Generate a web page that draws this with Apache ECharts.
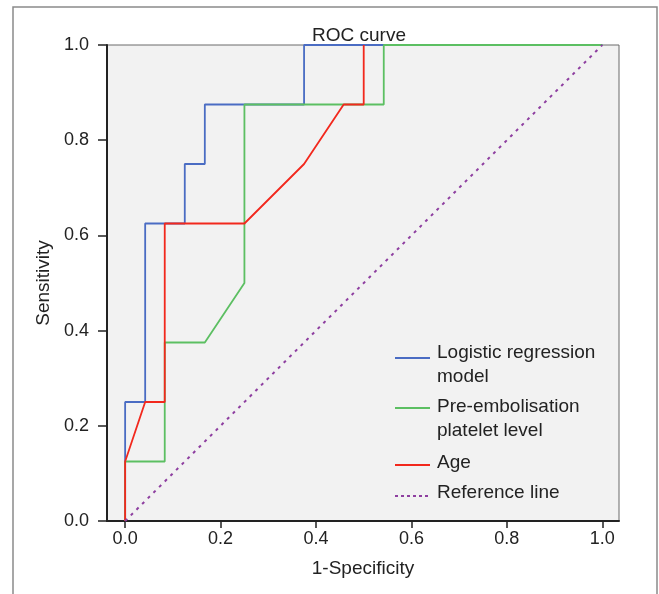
<!DOCTYPE html>
<html>
<head>
<meta charset="utf-8">
<script src="https://cdn.jsdelivr.net/npm/echarts@6/dist/echarts.min.js"></script>
<style>
  html, body { margin: 0; padding: 0; background: #fff; }
  #chart { width: 659px; height: 594px; }
</style>
</head>
<body>
<div id="chart"></div>
<script>
// ROC curve data (1-specificity, sensitivity)
const logisticX = [0, 0, 0.042, 0.042, 0.125, 0.125, 0.167, 0.167, 0.375, 0.375, 1]
const logisticY = [0, 0.25, 0.25, 0.625, 0.625, 0.75, 0.75, 0.875, 0.875, 1, 1]
const plateletX = [0, 0, 0.083, 0.083, 0.167, 0.25, 0.25, 0.542, 0.542, 1]
const plateletY = [0, 0.125, 0.125, 0.375, 0.375, 0.5, 0.875, 0.875, 1, 1]
const ageX = [0, 0, 0.042, 0.083, 0.083, 0.25, 0.375, 0.458, 0.5, 0.5]
const ageY = [0, 0.125, 0.25, 0.25, 0.625, 0.625, 0.75, 0.875, 0.875, 1]
const refX = [0, 1]
const refY = [0, 1]
const tickValues = [0, 0.2, 0.4, 0.6, 0.8, 1.0]
const seriesNames = ['Logistic regression model', 'Pre-embolisation platelet level', 'Age', 'Reference line']
const legendLines = [['Logistic regression', 'model'], ['Pre-embolisation', 'platelet level'], ['Age'], ['Reference line']]

const colors = ['#4a6cc3', '#5cbf62', '#f2281d', '#8e3fa0']
const font = '"Liberation Sans", Arial, sans-serif'

function pairs(xs, ys) {
  return xs.map(function(x, i) { return [x, ys[i]] })
}

const chart = echarts.init(document.getElementById('chart'), null, { renderer: 'canvas' })

// legend drawn by hand so that two-line names keep the icon on the first line
const iconY = [358, 408, 465, 496]
const textY = [353, 407, 463, 493]
const legendGraphic = []
legendLines.forEach(function(lines, i) {
  legendGraphic.push({
    type: 'line',
    shape: { x1: 395, y1: iconY[i], x2: 430, y2: iconY[i] },
    style: {
      stroke: colors[i],
      lineWidth: 2,
      lineDash: i === 3 ? [3, 3] : null
    }
  })
  lines.forEach(function(t, j) {
    legendGraphic.push({
      type: 'text',
      x: 437,
      y: textY[i] + j * 23.5,
      style: {
        text: t,
        font: '19px ' + font,
        fill: '#222',
        textVerticalAlign: 'middle'
      }
    })
  })
})

const option = {
  animation: false,
  backgroundColor: '#fff',
  title: {
    text: 'ROC curve',
    left: 354,
    top: 21,
    textAlign: 'center',
    textStyle: { fontFamily: font, fontSize: 19, fontWeight: 'normal', color: '#222' }
  },
  grid: {
    left: 107,
    right: 40,
    top: 45,
    bottom: 73,
    show: true,
    backgroundColor: '#f2f2f2',
    borderColor: '#6a6a6a',
    borderWidth: 1
  },
  xAxis: {
    type: 'value',
    min: -0.038,
    max: 1.035,
    name: '1-Specificity',
    nameLocation: 'middle',
    nameGap: 38,
    nameTextStyle: { fontFamily: font, fontSize: 19, color: '#222' },
    splitLine: { show: false },
    axisLine: { show: true, onZero: false, lineStyle: { color: '#222', width: 2 } },
    axisTick: { show: true, length: 7, customValues: tickValues, lineStyle: { color: '#222', width: 1.5 } },
    axisLabel: {
      customValues: tickValues,
      margin: 9,
      fontFamily: font,
      fontSize: 18,
      color: '#222',
      formatter: function(v) { return v.toFixed(1) }
    }
  },
  yAxis: {
    type: 'value',
    min: 0,
    max: 1,
    interval: 0.2,
    name: 'Sensitivity',
    nameLocation: 'middle',
    nameGap: 54,
    nameTextStyle: { fontFamily: font, fontSize: 19, color: '#222' },
    splitLine: { show: false },
    axisLine: { show: true, onZero: false, lineStyle: { color: '#222', width: 2 } },
    axisTick: { show: true, length: 9, lineStyle: { color: '#222', width: 1.5 } },
    axisLabel: {
      margin: 18,
      fontFamily: font,
      fontSize: 18,
      color: '#222',
      formatter: function(v) { return v.toFixed(1) }
    }
  },
  series: [
    {
      name: seriesNames[0],
      type: 'line',
      data: pairs(logisticX, logisticY),
      showSymbol: false,
      clip: false,
      lineStyle: { color: colors[0], width: 1.8 }
    },
    {
      name: seriesNames[1],
      type: 'line',
      data: pairs(plateletX, plateletY),
      showSymbol: false,
      clip: false,
      lineStyle: { color: colors[1], width: 1.8 }
    },
    {
      name: seriesNames[2],
      type: 'line',
      data: pairs(ageX, ageY),
      showSymbol: false,
      clip: false,
      lineStyle: { color: colors[2], width: 1.8 }
    },
    {
      name: seriesNames[3],
      type: 'line',
      data: pairs(refX, refY),
      showSymbol: false,
      clip: false,
      lineStyle: { color: colors[3], width: 2, type: [3, 5] }
    }
  ],
  graphic: [
    {
      type: 'rect',
      shape: { x: 13, y: 7, width: 644, height: 620 },
      style: { fill: null, stroke: '#8a8a8a', lineWidth: 1.5 },
      silent: true
    }
  ].concat(legendGraphic)
}

chart.setOption(option)
</script>
</body>
</html>
